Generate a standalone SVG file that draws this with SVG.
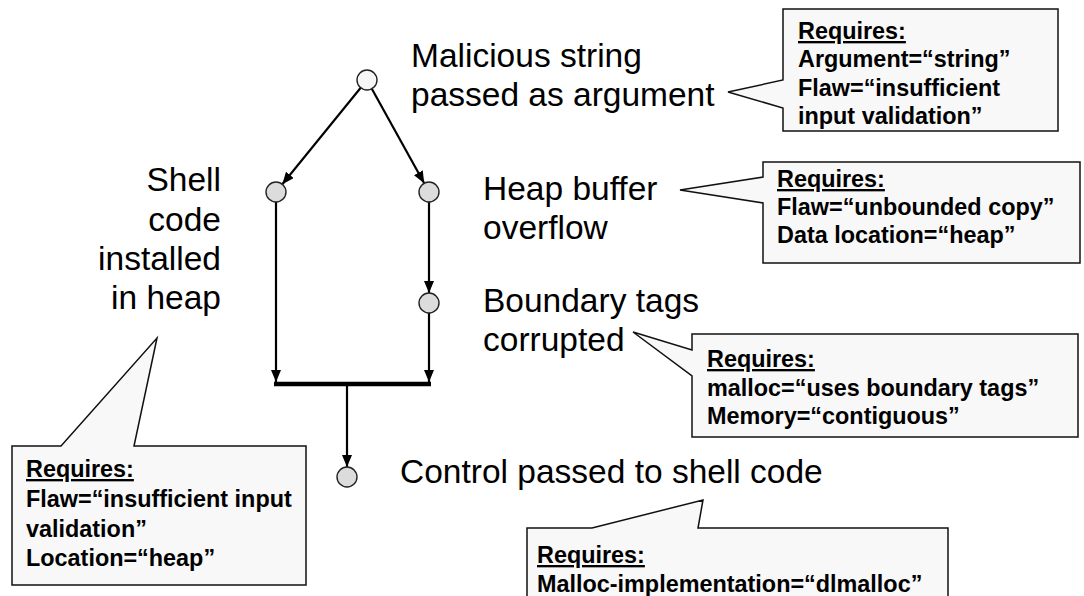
<svg xmlns="http://www.w3.org/2000/svg" width="1084" height="596" viewBox="0 0 1084 596">
  <style>
    .lbl { font-family: "Liberation Sans", Arial, sans-serif; font-size: 33.5px; fill: #000; }
    .req { font-family: "Liberation Sans", Arial, sans-serif; font-size: 23.4px; font-weight: bold; fill: #000; }
    .u { text-decoration: underline; }
    .callout { fill: #f8f8f8; stroke: #111; stroke-width: 1.5; stroke-linejoin: miter; }
    .node { stroke: #222; stroke-width: 1.4; fill: #dcdcdc; }
    .node.top { fill: #f6f6f6; }
    .edge { stroke: #000; stroke-width: 2.2; fill: none; }
    .bar { stroke: #000; stroke-width: 4.5; fill: none; }
  </style>
  <defs>
    <marker id="arr" viewBox="0 0 12 10" refX="12" refY="5" markerWidth="12" markerHeight="10" markerUnits="userSpaceOnUse" orient="auto">
      <path d="M0,0 L12,5 L0,10 z" fill="#000"/>
    </marker>
  </defs>
  <rect width="1084" height="596" fill="#fff"/>

  <g id="connectors">
    <line class="edge" x1="360.7" y1="87.8" x2="282.3" y2="184.2" marker-end="url(#arr)"/>
    <line class="edge" x1="371.8" y1="88.8" x2="424.2" y2="183.2" marker-end="url(#arr)"/>
    <line class="edge" x1="276" y1="202" x2="276" y2="382" marker-end="url(#arr)"/>
    <line class="edge" x1="429" y1="202" x2="429" y2="293" marker-end="url(#arr)"/>
    <line class="edge" x1="429" y1="313" x2="429" y2="382" marker-end="url(#arr)"/>
    <line class="bar" x1="274" y1="384" x2="431" y2="384"/>
    <line class="edge" x1="347" y1="386" x2="347" y2="467" marker-end="url(#arr)"/>
  </g>

  <g id="node-malicious">
    <circle class="node top" cx="367" cy="80" r="10"/>
    <text class="lbl" x="411" y="67">Malicious string</text>
    <text class="lbl" x="411" y="106">passed as argument</text>
  </g>
  <g id="node-shell">
    <circle class="node" cx="276" cy="192" r="10"/>
    <text class="lbl" text-anchor="end" x="221" y="191">Shell</text>
    <text class="lbl" text-anchor="end" x="221" y="231">code</text>
    <text class="lbl" text-anchor="end" x="221" y="270">installed</text>
    <text class="lbl" text-anchor="end" x="221" y="309">in heap</text>
  </g>
  <g id="node-heap">
    <circle class="node" cx="429" cy="192" r="10"/>
    <text class="lbl" x="483" y="200">Heap buffer</text>
    <text class="lbl" x="483" y="239">overflow</text>
  </g>
  <g id="node-boundary">
    <circle class="node" cx="429" cy="303" r="10"/>
    <text class="lbl" x="483" y="312">Boundary tags</text>
    <text class="lbl" x="483" y="351">corrupted</text>
  </g>
  <g id="node-control">
    <circle class="node" cx="347" cy="477" r="10"/>
    <text class="lbl" x="400" y="483">Control passed to shell code</text>
  </g>

  <g id="callout-malicious">
    <path class="callout" d="M783,9 H1058 V131 H783 V108 L728,92 L783,80 Z"/>
    <text class="req" x="798" y="39"><tspan class="u">Requires:</tspan></text>
    <text class="req" x="798" y="67">Argument=“string”</text>
    <text class="req" x="798" y="96">Flaw=“insufficient</text>
    <text class="req" x="798" y="124">input validation”</text>
  </g>
  <g id="callout-heap">
    <path class="callout" d="M763,162 H1080 V263 H763 V203 L680,190 L763,177 Z"/>
    <text class="req" x="777" y="187"><tspan class="u">Requires:</tspan></text>
    <text class="req" x="777" y="215">Flaw=“unbounded copy”</text>
    <text class="req" x="777" y="243">Data location=“heap”</text>
  </g>
  <g id="callout-boundary">
    <path class="callout" d="M692,334 H1078 V437 H692 V376 L633,332 L692,350 Z"/>
    <text class="req" x="707" y="367"><tspan class="u">Requires:</tspan></text>
    <text class="req" x="707" y="396">malloc=“uses boundary tags”</text>
    <text class="req" x="707" y="424">Memory=“contiguous”</text>
  </g>
  <g id="callout-shell">
    <path class="callout" d="M12,446 H61 L157,338 L134,446 H306 V585 H12 Z"/>
    <text class="req" x="26" y="477"><tspan class="u">Requires:</tspan></text>
    <text class="req" x="26" y="507">Flaw=“insufficient input</text>
    <text class="req" x="26" y="537">validation”</text>
    <text class="req" x="26" y="566">Location=“heap”</text>
  </g>
  <g id="callout-control">
    <path class="callout" d="M527,528 H592 L703,500 L698,528 H948 V612 H527 Z"/>
    <text class="req" x="537" y="563"><tspan class="u">Requires:</tspan></text>
    <text class="req" x="537" y="592">Malloc-implementation=“dlmalloc”</text>
  </g>
</svg>
